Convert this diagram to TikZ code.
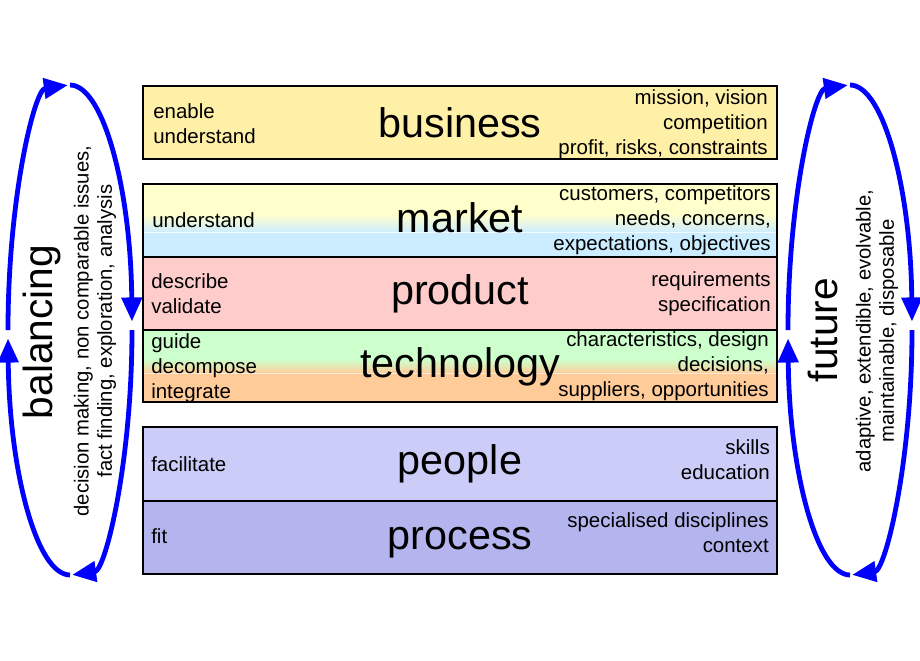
\documentclass[tikz,border=0pt]{standalone}
\usepackage{fontspec}
\setmainfont{Liberation Sans}
\usetikzlibrary{arrows.meta}
\definecolor{bizY}{HTML}{FFF0A8}
\definecolor{mktY}{HTML}{FFFFCC}
\definecolor{mktB}{HTML}{CCECFF}
\definecolor{prodR}{HTML}{FFCCCC}
\definecolor{techG}{HTML}{CCFFCC}
\definecolor{techO}{HTML}{FFCC99}
\definecolor{pplC}{HTML}{CCCCF8}
\definecolor{procC}{HTML}{B4B4EE}
\definecolor{loopB}{HTML}{0000FF}
\begin{document}
\begin{tikzpicture}[x=0.75pt,y=-0.75pt,
  band/.style={draw=black,line width=0.9pt},
  title/.style={font=\fontsize{31}{36}\selectfont,anchor=base,inner sep=0pt},
  ltxt/.style={font=\fontsize{15.35}{18.4}\selectfont,anchor=base west,align=left,inner sep=0pt},
  rtxt/.style={font=\fontsize{15.35}{18.4}\selectfont,anchor=base east,align=right,inner sep=0pt},
  sidetitle/.style={font=\fontsize{30.5}{36}\selectfont,rotate=90,inner sep=0pt},
  sidetxt/.style={font=\fontsize{15.2}{17.5}\selectfont,rotate=90,align=center,inner sep=0pt},
  loop/.style={draw=loopB,line width=3.6pt,-{Triangle[length=18pt,width=15pt]}}]
\useasboundingbox (0,0) rectangle (920,660);
% business
\fill[bizY] (143,86) rectangle (777,159);
\draw[band] (143,86) rectangle (777,159);
% market
\fill[mktY] (143,184) rectangle (777,215);
\shade[top color=mktY,bottom color=mktB] (143,214.5) rectangle (777,232.5);
\fill[mktB] (143,232) rectangle (777,257);
\draw[white,line width=0.8pt,opacity=0.8] (143,232.5) -- (777,232.5);
% product
\fill[prodR] (143,257) rectangle (777,330);
% technology
\fill[techG] (143,330) rectangle (777,360);
\shade[top color=techG,bottom color=techO] (143,359.5) rectangle (777,373.5);
\fill[techO] (143,373) rectangle (777,402);
\draw[white,line width=0.6pt,opacity=0.6] (143,373.5) -- (777,373.5);
\draw[band] (143,184) rectangle (777,402);
\draw[band] (143,257) -- (777,257);
\draw[band] (143,330) -- (777,330);
% people / process
\fill[pplC] (143,427) rectangle (777,501);
\fill[procC] (143,501) rectangle (777,574);
\draw[band] (143,427) rectangle (777,574);
\draw[band] (143,501) -- (777,501);
% titles
\node[title] (tbiz) at (460,137) {business};
\node[title] (tmkt) at (460,232) {market};
\node[title] (tprod) at (460,304) {product};
\node[title] (ttech) at (460,377) {technology};
\node[title] (tppl) at (460,474) {people};
\node[title] (tproc) at (460,549) {process};
% left texts (base anchor = last line)
\node[ltxt] (lbiz) at (153,143) {enable\\understand};
\node[ltxt] (lmkt) at (152,227) {understand};
\node[ltxt] (lprod) at (151,313) {describe\\validate};
\node[ltxt] (ltech) at (151,398) {guide\\decompose\\integrate};
\node[ltxt] (lppl) at (151,471) {facilitate};
\node[ltxt] (lproc) at (151,543) {fit};
% right texts
\node[rtxt] (rbiz) at (768,154) {mission, vision\\competition\\profit, risks, constraints};
\node[rtxt] (rmkt) at (771,250) {customers, competitors\\needs, concerns,\\expectations, objectives};
\node[rtxt] (rprod) at (771,311) {requirements\\specification};
\node[rtxt] (rtech) at (769,396) {characteristics, design\\decisions,\\suppliers, opportunities};
\node[rtxt] (rppl) at (770,479) {skills\\education};
\node[rtxt] (rproc) at (769,552) {specialised disciplines\\context};
% left loop
\draw[loop] (8,330) arc[start angle=180,end angle=268,x radius=62,y radius=245];
\draw[loop] (70,85) arc[start angle=270,end angle=358,x radius=62,y radius=245];
\draw[loop] (132,330) arc[start angle=0,end angle=88,x radius=62,y radius=245];
\draw[loop] (70,575) arc[start angle=90,end angle=178,x radius=62,y radius=245];
\node[sidetitle] (bal) at (42,332) {balancing};
\node[sidetxt] (balt) at (95,331) {decision making, non comparable issues,\\fact finding, exploration, analysis};
% right loop
\draw[loop] (788,330) arc[start angle=180,end angle=268,x radius=62,y radius=245];
\draw[loop] (850,85) arc[start angle=270,end angle=358,x radius=62,y radius=245];
\draw[loop] (912,330) arc[start angle=0,end angle=88,x radius=62,y radius=245];
\draw[loop] (850,575) arc[start angle=90,end angle=178,x radius=62,y radius=245];
\node[sidetitle] (fut) at (823,330) {future};
\node[sidetxt] (futt) at (877,331) {adaptive, extendible, evolvable,\\maintainable, disposable};
\end{tikzpicture}
\end{document}
